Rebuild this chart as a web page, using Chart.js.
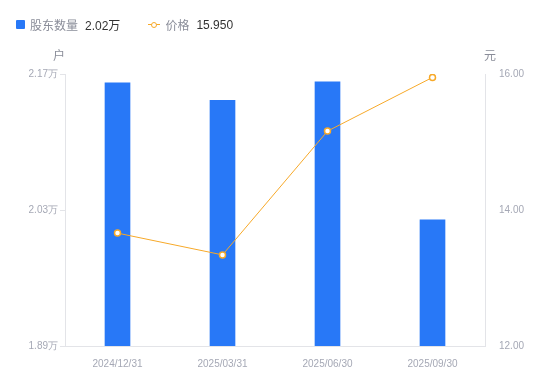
<!DOCTYPE html>
<html>
<head>
<meta charset="utf-8">
<script src="https://cdn.jsdelivr.net/npm/chart.js@4/dist/chart.umd.min.js"></script>
<style>
  html, body { margin: 0; padding: 0; background: #fff; }
  #wrap { position: relative; width: 550px; height: 381px; font-family: "Liberation Sans", "Noto Sans CJK SC", sans-serif; }
  #legend { position: absolute; left: 16px; top: 16px; font-size: 12px; color: #8a8d99; display: flex; align-items: center; }
  .item { display: flex; align-items: center; margin-right: 28px; }
  .sq { width: 9px; height: 9px; background: #2878f7; border-radius: 1px; margin-right: 5px; }
  .ln { position: relative; width: 12px; height: 9px; margin-right: 5px; }
  .ln:before { content: ''; position: absolute; left: 0; right: 0; top: 4px; height: 1px; background: #f7a929; }
  .ln:after { content: ''; position: absolute; left: 3px; top: 1.5px; width: 4px; height: 4px; border: 1.5px solid #f7a929; border-radius: 50%; background: #fff; }
  .val { color: #333; margin-left: 7px; }
  canvas { position: absolute; left: 0; top: 0; }
</style>
</head>
<body>
<div id="wrap">
  <canvas id="c" width="550" height="381"></canvas>
  <div id="legend">
    <div class="item"><span class="sq"></span>股东数量<span class="val">2.02万</span></div>
    <div class="item"><span class="ln"></span>价格<span class="val">15.950</span></div>
  </div>
</div>
<script>
const dates = ['2024/12/31', '2025/03/31', '2025/06/30', '2025/09/30'];
const holders = [2.161, 2.143, 2.162, 2.02];   // 万户
const prices = [13.66, 13.34, 15.16, 15.95];   // 元
const leftTicks = [1.89, 2.03, 2.17];
const rightTicks = [12, 14, 16];

const axisColor = '#e3e4e8';
const labelColor = '#a5a8b5';

const unitTitles = {
  id: 'unitTitles',
  afterDraw(chart) {
    const { ctx, chartArea } = chart;
    ctx.save();
    ctx.font = '12px "Liberation Sans", "Noto Sans CJK SC", sans-serif';
    ctx.fillStyle = '#8a8d99';
    ctx.textBaseline = 'middle';
    ctx.textAlign = 'center';
    ctx.fillText('户', chartArea.left - 6, chartArea.top - 17);
    ctx.fillText('元', chartArea.right + 5, chartArea.top - 17);
    ctx.restore();
  }
};

new Chart(document.getElementById('c'), {
  data: {
    labels: dates,
    datasets: [
      { type: 'line', label: '价格', data: prices, yAxisID: 'y1', order: 0,
        borderColor: '#f7a929', borderWidth: 1, pointRadius: 3, pointBorderWidth: 1.5,
        pointBackgroundColor: '#fff', pointBorderColor: '#f7a929', tension: 0, fill: false },
      { type: 'bar', label: '股东数量', data: holders, yAxisID: 'y', order: 1,
        backgroundColor: '#2878f7', barThickness: 25, borderWidth: 0 }
    ]
  },
  options: {
    responsive: false,
    animation: false,
    layout: { padding: { top: 74, left: 0, right: 0, bottom: 0 } },
    plugins: { legend: { display: false }, tooltip: { enabled: false } },
    scales: {
      x: {
        grid: { display: false },
        border: { display: true, color: axisColor },
        ticks: { color: labelColor, font: { size: 10 }, padding: 4 },
        afterFit(s) { s.height = 35; }
      },
      y: {
        position: 'left', min: 1.89, max: 2.17,
        grid: { drawOnChartArea: false, drawTicks: true, tickLength: 5, color: axisColor },
        border: { display: true, color: axisColor },
        afterBuildTicks(s) { s.ticks = leftTicks.map(v => ({ value: v })); },
        ticks: { color: labelColor, font: { size: 10 }, padding: 2, callback: v => v.toFixed(2) + '万' },
        afterFit(s) { s.width = 65; }
      },
      y1: {
        position: 'right', min: 12, max: 16,
        grid: { display: false },
        border: { display: true, color: axisColor },
        afterBuildTicks(s) { s.ticks = rightTicks.map(v => ({ value: v })); },
        ticks: { color: labelColor, font: { size: 10 }, padding: 6, callback: v => v.toFixed(2) },
        afterFit(s) { s.width = 65; }
      }
    }
  },
  plugins: [unitTitles]
});
</script>
</body>
</html>
